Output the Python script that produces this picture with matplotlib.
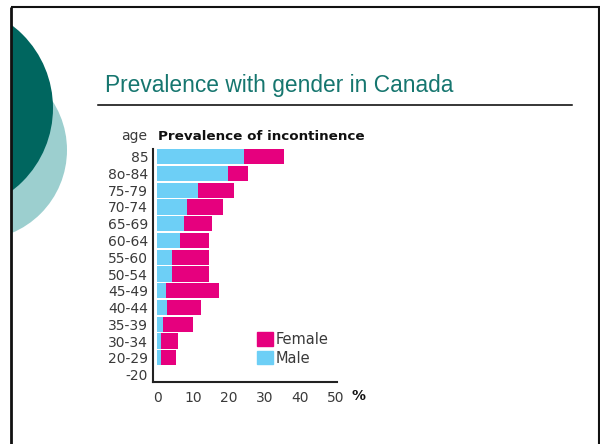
import numpy as np
import matplotlib.pyplot as plt
from matplotlib.patches import Circle, Rectangle, Patch

# prevalence of incontinence (%) by age group
age_groups = ['85', '8o-84', '75-79', '70-74', '65-69', '60-64', '55-60',
              '50-54', '45-49', '40-44', '35-39', '30-34', '20-29', '-20']
male = [24.3, 19.7, 11.4, 8.4, 7.3, 6.2, 4.0, 4.0, 2.4, 2.6, 1.5, 1.0, 0.9, 0]
female = [11.1, 5.6, 10.0, 10.0, 7.9, 8.1, 10.4, 10.4, 14.9, 9.6, 8.5, 4.7, 4.2, 0]
xticks = [0, 10, 20, 30, 40, 50]

pink = '#e6007e'
blue = '#6dcff6'
text_grey = '#3a3a3a'

fig = plt.figure(figsize=(6, 4.44), dpi=100)

# slide background in pixel coordinates
bg = fig.add_axes([0, 0, 1, 1])
bg.set_xlim(0, 600)
bg.set_ylim(444, 0)
bg.axis('off')

slide = Rectangle((11, 7), 588, 440, transform=bg.transData)
light = Circle((-23, 150), 90, color='#9ccfcf', lw=0)
dark = Circle((-51, 108), 104, color='#00665f', lw=0)
for c in (light, dark):
    bg.add_patch(c)
    c.set_clip_path(slide)

bg.plot([11.3, 11.3], [7, 444], color='#111111', lw=2.0, solid_capstyle='butt')
bg.plot([11, 599.5], [7.3, 7.3], color='#111111', lw=1.5, solid_capstyle='butt')
bg.plot([598.5, 598.5], [7, 444], color='#111111', lw=1.5, solid_capstyle='butt')

bg.text(105, 91.7, 'Prevalence with gender in Canada', fontsize=16.4,
        family='Liberation Sans', color='#16766f', va='baseline')
bg.plot([97.7, 572], [105, 105], color='black', lw=1.1)

# chart
ax = fig.add_axes([153 / 600, (444 - 382.3) / 444, 183.5 / 600, (382.3 - 149) / 444])
y = np.arange(len(age_groups))[::-1]
ax.barh(y, male, height=0.91, color=blue, lw=0)
ax.barh(y, female, left=male, height=0.91, color=pink, lw=0)
ax.set_xlim(-1.26, 50.14)
ax.set_ylim(-0.46, 13.46)
ax.set_yticks(y, age_groups)
ax.set_xticks(xticks)
ax.tick_params(axis='y', length=0, pad=3.5, labelsize=10, labelcolor=text_grey)
ax.tick_params(axis='x', length=0, pad=6, labelsize=10, labelcolor=text_grey)
for s in ('top', 'right'):
    ax.spines[s].set_visible(False)
for s in ('left', 'bottom'):
    ax.spines[s].set_linewidth(1.5)
    ax.spines[s].set_color('#222222')
ax.patch.set_alpha(0)

bg.text(147, 136, 'age', fontsize=10, color=text_grey, ha='right', va='center')
bg.text(157.9, 136, 'Prevalence of incontinence', fontsize=9.7, weight='bold',
        color='#111111', ha='left', va='center')
bg.text(358, 396, '%', fontsize=10, weight='bold', color='#111111',
        ha='center', va='center')

ax.legend(handles=[Patch(color=pink, label='Female'), Patch(color=blue, label='Male')],
          loc='upper left', bbox_to_anchor=(257 / 600, 1 - 332 / 444),
          bbox_transform=fig.transFigure, frameon=False, borderpad=0,
          borderaxespad=0, handlelength=1.1, handleheight=1.0,
          handletextpad=0.2, labelspacing=0.25, fontsize=10.5,
          labelcolor=text_grey)

fig.savefig('out.png', dpi=100)
